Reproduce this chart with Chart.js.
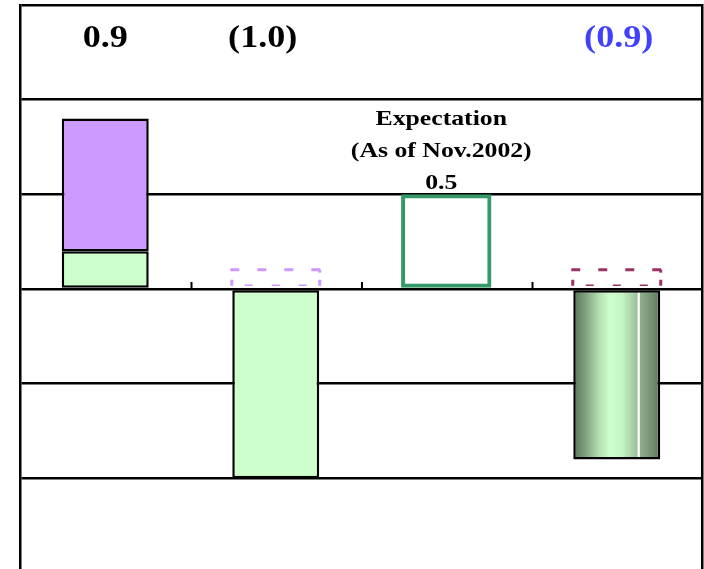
<!DOCTYPE html>
<html><head><meta charset="utf-8">
<script src="https://cdn.jsdelivr.net/npm/chart.js@4"></script>
<style>
html,body{margin:0;padding:0;background:#fff;overflow:hidden}
#wrap{width:704px;height:580px;position:relative}
</style>
</head><body>
<div id="wrap"><canvas id="c" width="704" height="580"></canvas></div>
<script>
// ---- data ----
const categories = ['Period 1', 'Period 2', 'Period 3', 'Period 4'];
const baseValues = [0.2, -1.0, null, null];        // light green segment
const upperValues = [0.7, null, null, null];       // purple segment (stacked, total 0.9)
const expectationValues = [null, null, 0.5, null]; // outlined expectation box
const shadedValues = [null, null, null, -0.9];     // gradient bar
const dashedValues = [null, 0.11, null, 0.11];     // dashed outline boxes
const headerLabels = ['0.9', '(1.0)', '', '(0.9)'];
const expectationLabel = ['Expectation', '(As of Nov.2002)'];
const yMin = -1.5, yMax = 1.5, yStep = 0.5;

// ---- style ----
const dashedColors = ['#cc99ff', '#cc99ff', '#cc99ff', '#993366'];
const headerColors = ['#000000', '#000000', '#000000', '#4040ff'];
const headerOffsets = [0, -13, 0, 2];

function shadedFill(ctx) {
  const chart = ctx.chart;
  const xs = chart.scales && chart.scales.x;
  if (!xs || ctx.type !== 'data') return '#99cc99';
  const cw = xs.width / categories.length;
  const w = cw * 0.51;
  const cx = xs.getPixelForValue(ctx.dataIndex);
  if (!isFinite(cw) || !isFinite(cx) || !(w > 0)) return '#99cc99';
  const g = chart.ctx.createLinearGradient(cx - w / 2, 0, cx + w / 2, 0);
  g.addColorStop(0, '#587458');
  g.addColorStop(0.12, '#7a9a7a');
  g.addColorStop(0.3, '#b4e0b4');
  g.addColorStop(0.42, '#ccffcc');
  g.addColorStop(0.56, '#c4f4c4');
  g.addColorStop(0.735, '#9cc09c');
  g.addColorStop(0.745, '#ffffff');
  g.addColorStop(0.76, '#ffffff');
  g.addColorStop(0.77, '#8fae8f');
  g.addColorStop(0.9, '#739273');
  g.addColorStop(1, '#587458');
  return g;
}

function dashedSeg(ctx, x1, y1, x2, y2, dash, offset) {
  ctx.setLineDash(dash);
  ctx.lineDashOffset = offset || 0;
  ctx.beginPath();
  ctx.moveTo(x1, y1);
  ctx.lineTo(x2, y2);
  ctx.stroke();
}

const overlayPlugin = {
  id: 'overlay',
  afterDatasetsDraw(chart) {
    const ctx = chart.ctx;
    const xs = chart.scales.x, ys = chart.scales.y;
    const y0 = ys.getPixelForValue(0);
    // category tick marks on the zero line
    ctx.save();
    ctx.strokeStyle = '#000';
    ctx.lineWidth = 2;
    for (let i = 0; i < categories.length - 1; i++) {
      const xb = (xs.getPixelForValue(i) + xs.getPixelForValue(i + 1)) / 2 + 1;
      ctx.beginPath();
      ctx.moveTo(xb, y0 - 7);
      ctx.lineTo(xb, y0);
      ctx.stroke();
    }
    ctx.restore();

    // dashed outline boxes
    const dIdx = chart.data.datasets.findIndex(d => d.label === 'Dashed');
    const meta = chart.getDatasetMeta(dIdx);
    meta.data.forEach((el, i) => {
      if (dashedValues[i] == null) return;
      const p = el.getProps(['x', 'y', 'base', 'width'], true);
      const l = p.x - p.width / 2 - 0.5, r = p.x + p.width / 2 + 0.5;
      const t = p.y + 1.5, b = p.base - 2;
      ctx.save();
      ctx.strokeStyle = dashedColors[i];
      ctx.lineWidth = 3;
      ctx.lineCap = 'butt';
      dashedSeg(ctx, l - 1.5, t, r + 1.5, t, [9, 18]);
      dashedSeg(ctx, l, b, l, t, [6, 100]);
      dashedSeg(ctx, r, b, r, t, [6, 100]);
      dashedSeg(ctx, r, t, r, b, [3, 100]);
      ctx.lineWidth = 1.5;
      dashedSeg(ctx, l, b - 0.5, r, b - 0.5, [8, 19], 14);
      ctx.restore();
    });

    // header labels
    const hy = ys.getPixelForValue(1.5) + 42;
    ctx.save();
    ctx.font = 'bold 32px "Liberation Serif", "Times New Roman", serif';
    ctx.textAlign = 'center';
    ctx.textBaseline = 'alphabetic';
    headerLabels.forEach((t, i) => {
      if (!t) return;
      ctx.save();
      ctx.translate(xs.getPixelForValue(i) + headerOffsets[i], hy);
      ctx.scale(1.13, 1);
      ctx.fillStyle = headerColors[i];
      ctx.fillText(t, 0, 0);
      ctx.restore();
    });
    ctx.restore();

    // expectation label
    const ei = expectationValues.findIndex(v => v != null);
    const ex = xs.getPixelForValue(ei) - 5;
    const ey = ys.getPixelForValue(expectationValues[ei]) - 5;
    const lines = expectationLabel.concat([expectationValues[ei].toFixed(1)]);
    ctx.save();
    ctx.font = 'bold 22px "Liberation Serif", "Times New Roman", serif';
    ctx.textAlign = 'center';
    ctx.fillStyle = '#000';
    lines.forEach((t, k) => {
      ctx.save();
      ctx.translate(ex, ey - (lines.length - 1 - k) * 32);
      ctx.scale(1.17, 1);
      ctx.fillText(t, 0, 0);
      ctx.restore();
    });
    ctx.restore();
  }
};

new Chart(document.getElementById('c'), {
  type: 'bar',
  data: {
    labels: categories,
    datasets: [
      { label: 'Base', data: baseValues, backgroundColor: '#ccffcc', borderColor: '#000', borderWidth: 2.5, borderSkipped: false },
      { label: 'Upper', data: upperValues, backgroundColor: '#cc99ff', borderColor: '#000', borderWidth: 2.5, borderSkipped: false },
      { label: 'Expectation', data: expectationValues, backgroundColor: 'rgba(0,0,0,0)', borderColor: '#339966', borderWidth: 4, borderSkipped: false, barPercentage: 0.53 },
      { label: 'Shaded', data: shadedValues, backgroundColor: shadedFill, borderColor: '#000', borderWidth: 2.5, borderSkipped: false },
      { label: 'Dashed', data: dashedValues, backgroundColor: 'rgba(0,0,0,0)', borderWidth: 0 }
    ]
  },
  options: {
    responsive: false,
    animation: false,
    events: [],
    layout: { padding: { left: 20, right: 2, top: 5, bottom: 7 } },
    datasets: { bar: { categoryPercentage: 1, barPercentage: 0.51 } },
    plugins: { legend: { display: false }, tooltip: { enabled: false } },
    scales: {
      x: { stacked: true, display: false, offset: true },
      y: {
        stacked: true, min: yMin, max: yMax,
        ticks: { display: false, stepSize: yStep },
        grid: { color: '#000', lineWidth: 2.5, drawTicks: false },
        border: { display: true, color: '#000', width: 2.5 },
        afterFit: s => { s.width = 0; }
      },
      y2: {
        position: 'right', min: yMin, max: yMax,
        ticks: { display: false },
        grid: { display: false, drawTicks: false },
        border: { display: true, color: '#000', width: 2.5 },
        afterFit: s => { s.width = 0; }
      }
    }
  },
  plugins: [overlayPlugin]
});
</script>
</body></html>
